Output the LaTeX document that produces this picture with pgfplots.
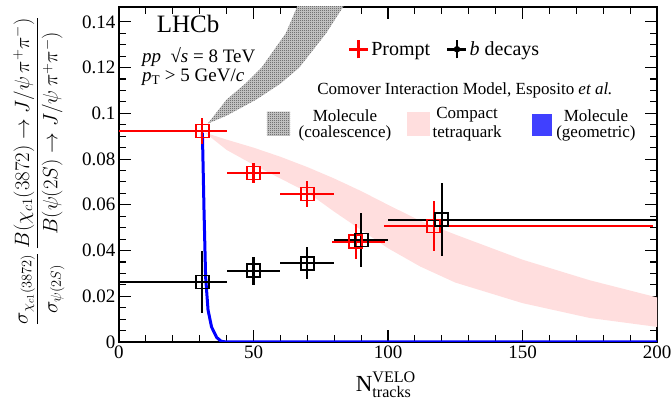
\documentclass[border=0pt]{standalone}
\usepackage{amsmath}
\usepackage{fontspec}
\setmainfont{Liberation Serif}
\usepackage{pgfplots}
\usepackage{pgfplotstable}
\pgfplotsset{compat=1.18}
\usetikzlibrary{patterns}

% fine grey checker, like the ROOT hatch of the coalescence band
\pgfdeclarepatternformonly{finecheck}{\pgfpointorigin}{\pgfqpoint{2pt}{2pt}}{\pgfqpoint{2pt}{2pt}}{%
  \pgfpathrectangle{\pgfpointorigin}{\pgfqpoint{1pt}{1pt}}%
  \pgfpathrectangle{\pgfqpoint{1pt}{1pt}}{\pgfqpoint{1pt}{1pt}}%
  \pgfusepath{fill}}

% x y xminus xplus yerr
\pgfplotstableread{
x y xm xp ey
31 0.0923 31 9 0.0055
50 0.0739 10 10 0.0044
70 0.0647 10 10 0.0055
88 0.0438 9 11 0.0077
117 0.0507 18.5 81.5 0.011
}\prompt
\pgfplotstableread{
x y xm xp ey
31 0.0262 31 9 0.0134
50 0.0311 10 10 0.006
70 0.0345 10 10 0.007
90 0.0446 10 10 0.012
120 0.0534 20 80 0.016
}\bdecay

\begin{document}
\begin{tikzpicture}
\useasboundingbox (-119pt,-61pt) rectangle (552pt,342pt);
\begin{axis}[
  scale only axis, width=538pt, height=335pt,
  xmin=0, xmax=200, ymin=0, ymax=0.1465,
  xtick={0,50,100,150,200}, minor x tick num=4,
  ytick={0,0.02,0.04,0.06,0.08,0.1,0.12,0.14},
  yticklabels={0,0.02,0.04,0.06,0.08,0.1,0.12,0.14},
  minor y tick num=3,
  major tick length=12pt, minor tick length=7pt,
  tick style={line width=1.1pt, black},
  axis line style={line width=1.6pt},
  /pgf/number format/assume math mode=true,
  tick label style={font=\fontsize{19}{22}\selectfont},
  xlabel={N$^{\text{VELO}}_{\text{tracks}}$},
  xlabel style={at={(axis description cs:0.496,-0.128)}, anchor=center, font=\fontsize{23}{26}\selectfont},
  ylabel={$\displaystyle\frac{\sigma_{\chi_{c1}(3872)}}{\sigma_{\psi(2S)}}\,\frac{B(\chi_{c1}(3872)\to J/\psi\,\pi^{+}\pi^{-})}{B(\psi(2S)\to J/\psi\,\pi^{+}\pi^{-})}$},
  ylabel style={at={(axis description cs:-0.149,0.51)}, anchor=center, rotate=0, font=\fontsize{20.5}{23}\selectfont},
  legend style={draw=none, fill=none, at={(axis cs:85,0.128)}, anchor=west, inner sep=0pt,
    font=\fontsize{20}{22}\selectfont, /tikz/every even column/.append style={column sep=14pt}},
  legend columns=2,
  greyband/.style={draw=none, fill=gray!35, postaction={pattern=finecheck, pattern color=black!75}},
]
% molecule (coalescence)
\addplot[greyband, forget plot] coordinates {
(33,0.0955) (40,0.106) (47,0.113) (53,0.120) (62,0.135) (66,0.146) (68,0.152)
(86,0.152) (83,0.146) (77,0.135) (67,0.120) (60,0.113) (51,0.106) (40,0.099) (33,0.0955)} -- cycle;
% compact tetraquark
\addplot[draw=none, fill=red!13, forget plot] coordinates {
(32,0.0915) (40,0.0885) (50,0.085) (60,0.081) (70,0.0765) (80,0.0715) (90,0.066) (100,0.060)
(112,0.053) (125,0.047) (150,0.036) (175,0.027) (200,0.0195)
(200,0.0066) (175,0.0105) (150,0.017) (125,0.026) (112,0.033) (100,0.041) (90,0.049)
(80,0.057) (70,0.0655) (60,0.0715) (50,0.0775) (40,0.084) (32,0.0915)} -- cycle;
% molecule (geometric)
\addplot[blue, line width=3pt, forget plot] coordinates {
(31,0.0915) (31.3,0.075) (31.6,0.0577) (32.2,0.0284) (33.1,0.014) (34.4,0.0066)
(36.3,0.002) (38,0.0003) (40,0) (200,0)};

% legend samples
\addplot[greyband, forget plot] coordinates {
(55,0.0901) (63.6,0.0901) (63.6,0.1006) (55,0.1006)} -- cycle;
\addplot[draw=none, fill=red!13, forget plot] coordinates {
(107.1,0.0901) (115.6,0.0901) (115.6,0.1006) (107.1,0.1006)} -- cycle;
\addplot[draw=none, fill=blue!75, forget plot] coordinates {
(153.5,0.0901) (161,0.0901) (161,0.0997) (153.5,0.0997)} -- cycle;

% data
\addplot[forget plot, only marks, red, mark=square, mark size=6.5pt, mark options={line width=1.8pt},
  error bars/.cd, x dir=both, x explicit, y dir=both, y explicit, error mark=none,
  error bar style={line width=2.2pt}]
  table[x=x, y=y, x error minus=xm, x error plus=xp, y error=ey] {\prompt};
\addplot[forget plot, only marks, black, mark=square, mark size=6.5pt, mark options={line width=1.8pt},
  error bars/.cd, x dir=both, x explicit, y dir=both, y explicit, error mark=none,
  error bar style={line width=2.2pt}]
  table[x=x, y=y, x error minus=xm, x error plus=xp, y error=ey] {\bdecay};

\addlegendimage{legend image code/.code={\draw[red, line width=2.5pt] (0pt,0pt)--(19pt,0pt) (9.5pt,-9pt)--(9.5pt,9pt);}}
\addlegendentry{Prompt}
\addlegendimage{legend image code/.code={\draw[black, line width=2.5pt] (0pt,0pt)--(19pt,0pt) (9.5pt,-9pt)--(9.5pt,9pt); \fill[black] (9.5pt,0pt) circle (3pt);}}
\addlegendentry{\textit{b} decays}

\node[anchor=base, inner sep=0pt, font=\fontsize{25}{28}\selectfont] at (axis cs:25.7,0.1355) {LHCb};
\node[anchor=base west, inner sep=0pt, font=\fontsize{19}{22}\selectfont] at (axis cs:8.5,0.1222) {\textit{pp}\ \ √\textit{s} = 8 TeV};
\node[anchor=base west, inner sep=0pt, font=\fontsize{19}{22}\selectfont] at (axis cs:8.5,0.1137) {\textit{p}$_{\text{T}}$ > 5 GeV/\textit{c}};
\node[font=\fontsize{17}{20}\selectfont] at (axis cs:128.6,0.1102) {Comover Interaction Model, Esposito \textit{et al.}};
\node[align=center, font=\fontsize{17}{16}\selectfont] at (axis cs:84,0.0945) {Molecule\\(coalescence)};
\node[align=center, font=\fontsize{17}{19}\selectfont] at (axis cs:129.4,0.0954) {Compact\\tetraquark};
\node[align=center, font=\fontsize{17}{16}\selectfont] at (axis cs:177.3,0.0945) {Molecule\\(geometric)};
\end{axis}
\end{tikzpicture}
\end{document}
